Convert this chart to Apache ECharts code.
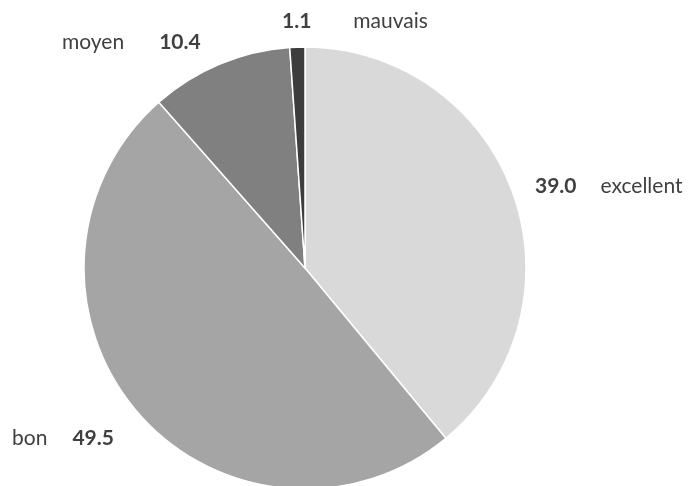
<!DOCTYPE html>
<html><head><meta charset="utf-8">
<script src="https://cdn.jsdelivr.net/npm/echarts@6/dist/echarts.min.js"></script>
<style>html,body{margin:0;padding:0;background:#fff}#c{width:690px;height:486px}</style>
</head><body><div id="c"></div>
<script>
const categories = ['excellent', 'bon', 'moyen', 'mauvais'];
const values = [39.0, 49.5, 10.4, 1.1];
const colors = ['#d9d9d9', '#a5a5a5', '#808080', '#3d3d3d'];
// label anchor (left edge, vertical middle) for each slice label
const labelSpots = [[535, 186], [12, 438], [62, 42], [282, 21]];
// whether the value comes before the name, and gap between the two parts
const valueFirst = [true, false, false, true];
const gaps = [24, 25, 35, 42];

const chart = echarts.init(document.getElementById('c'), null, {renderer: 'canvas'});
const FS = 21;
const rich = {};
gaps.forEach((g, i) => {
  rich['v' + i] = {fontFamily: 'Lato', fontSize: FS, fontWeight: 'bold', color: '#404040', padding: valueFirst[i] ? 0 : [0, 0, 0, g]};
  rich['n' + i] = {fontFamily: 'Lato', fontSize: FS, color: '#404040', padding: valueFirst[i] ? [0, 0, 0, g] : 0};
});
chart.setOption({
  animation: false,
  backgroundColor: '#fff',
  series: [{
    type: 'pie',
    center: [305, 268],
    radius: [0, 221],
    startAngle: 90,
    clockwise: true,
    avoidLabelOverlap: false,
    itemStyle: {borderColor: '#fff', borderWidth: 1.5},
    label: {
      show: true,
      position: 'outside',
      overflow: 'none',
      fontFamily: 'Lato',
      fontSize: FS,
      color: '#404040',
      formatter: function (p) {
        const i = p.dataIndex;
        const v = '{v' + i + '|' + p.value.toFixed(1) + '}';
        const n = '{n' + i + '|' + p.name + '}';
        return valueFirst[i] ? v + n : n + v;
      },
      rich: rich
    },
    labelLine: {show: false},
    labelLayout: function (p) {
      const s = labelSpots[p.dataIndex];
      return {x: s[0], y: s[1], align: 'left', verticalAlign: 'middle', moveOverlap: false};
    },
    data: categories.map((c, i) => ({name: c, value: values[i], itemStyle: {color: colors[i]}}))
  }]
});
</script></body></html>
